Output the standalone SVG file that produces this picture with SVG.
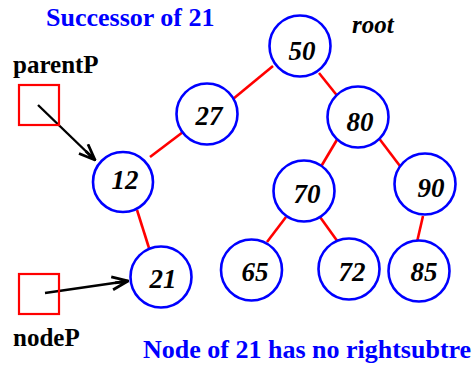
<svg xmlns="http://www.w3.org/2000/svg" width="475" height="371" viewBox="0 0 475 371">
<style>
.node circle{fill:#fff;stroke:#0000ff;stroke-width:2.6}
.node text{font-family:'Liberation Serif','Times New Roman',serif;font-weight:bold;font-style:italic;font-size:27px;fill:#000;text-anchor:middle}
.edge{stroke:#ff0000;stroke-width:2.6;fill:none}
.ptr{stroke:#000;stroke-width:2.4;fill:none}
.box{fill:none;stroke:#ff0000;stroke-width:2.2}
.lbl{font-family:'Liberation Serif','Times New Roman',serif;font-weight:bold;font-size:25px;fill:#000}
.blue{font-family:'Liberation Serif','Times New Roman',serif;font-weight:bold;font-size:26px;fill:#0000ff}
</style>
<defs>
<marker id="ah" viewBox="0 0 18 16" refX="17" refY="8" markerWidth="18" markerHeight="16" markerUnits="userSpaceOnUse" orient="auto">
<path d="M1,1.5 L17,8 L1,14.5 M17,8 L4,8" fill="none" stroke="#000" stroke-width="2.8"/>
</marker>
</defs>
<rect width="475" height="371" fill="#fff"/>
<text class="blue" x="46" y="26">Successor of 21</text>
<text class="lbl" x="13" y="73">parentP</text>
<text class="lbl" x="13" y="346">nodeP</text>
<text class="lbl" x="352" y="33" font-style="italic">root</text>
<text class="blue" x="143" y="358">Node of 21 has no rightsubtre</text>
<g id="connectors">
<line class="edge" x1="273" y1="66" x2="233" y2="99"/>
<line class="edge" x1="319" y1="73" x2="339" y2="98"/>
<line class="edge" x1="338" y1="138" x2="319" y2="170"/>
<line class="edge" x1="378" y1="137" x2="403" y2="170"/>
<line class="edge" x1="183" y1="132" x2="150" y2="157"/>
<line class="edge" x1="137" y1="210" x2="149" y2="248"/>
<line class="edge" x1="286" y1="217" x2="267" y2="242"/>
<line class="edge" x1="320" y1="217" x2="338" y2="242"/>
<line class="edge" x1="423" y1="216" x2="417" y2="242"/>
<line class="ptr" x1="38" y1="105" x2="95" y2="160" marker-end="url(#ah)"/>
<line class="ptr" x1="45" y1="293" x2="128" y2="281" marker-end="url(#ah)"/>
</g>
<g id="parentP"><rect class="box" x="19" y="85" width="40" height="40"/></g>
<g id="nodeP"><rect class="box" x="19" y="274" width="40" height="40"/></g>
<g id="n50" class="node"><circle cx="300" cy="46" r="30.5"/><text x="302" y="60">50</text></g>
<g id="n27" class="node"><circle cx="207" cy="114" r="30.5"/><text x="209" y="125">27</text></g>
<g id="n80" class="node"><circle cx="358" cy="117" r="30.5"/><text x="360" y="131">80</text></g>
<g id="n12" class="node"><circle cx="123" cy="182" r="30"/><text x="125" y="189">12</text></g>
<g id="n70" class="node"><circle cx="304" cy="191" r="30.5"/><text x="307" y="203">70</text></g>
<g id="n90" class="node"><circle cx="425" cy="184" r="30.5"/><text x="431" y="197">90</text></g>
<g id="n21" class="node"><circle cx="161" cy="277" r="30.5"/><text x="163" y="288">21</text></g>
<g id="n65" class="node"><circle cx="251.5" cy="270" r="30.5"/><text x="255" y="281">65</text></g>
<g id="n72" class="node"><circle cx="349" cy="269" r="30.5"/><text x="352" y="281">72</text></g>
<g id="n85" class="node"><circle cx="419" cy="271" r="30.5"/><text x="424" y="281">85</text></g>
</svg>
